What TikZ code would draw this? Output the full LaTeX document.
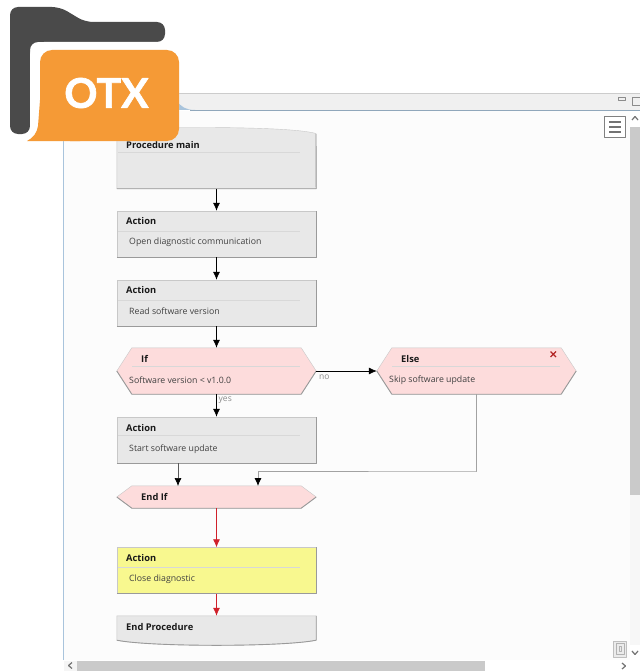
\documentclass[tikz,border=0pt]{standalone}
\usepackage{fontspec}
\setmainfont{Open Sans}
\newfontfamily\logofont[BoldFeatures={FakeBold=1.6}]{Lato}
\usetikzlibrary{arrows.meta}

\definecolor{boxfill}{HTML}{E8E8E8}
\definecolor{hexfill}{HTML}{FDDCDC}
\definecolor{closefill}{HTML}{F8F88F}
\definecolor{boxline}{HTML}{C8C8C8}
\definecolor{boxshade}{HTML}{9A9A9A}
\definecolor{titlerule}{HTML}{D8D8D8}
\definecolor{flowgray}{HTML}{A2A2A2}
\definecolor{flowred}{HTML}{D0202A}
\definecolor{winline}{HTML}{A9C4DC}
\definecolor{folderdark}{HTML}{4A4A4A}
\definecolor{folderorange}{HTML}{F59A36}
\definecolor{barfill}{HTML}{CACACA}

\tikzset{
  boxnode/.style={rectangle,fill=boxfill,draw=boxline,minimum width=199bp,minimum height=46bp,inner sep=0pt},
  hexnode/.style={rectangle,minimum width=199bp,inner sep=0pt},
  titletext/.style={anchor=west,inner sep=0pt,font=\fontsize{9.3bp}{11bp}\selectfont\bfseries,text=black!90},
  bodytext/.style={anchor=west,inner sep=0pt,yshift=-.8bp,font=\fontsize{8.75bp}{11bp}\selectfont,text=black!75},
  flowlabel/.style={anchor=west,inner sep=0pt,font=\fontsize{8.5bp}{10bp}\selectfont,text=black!45},
  flowedge/.style={-{Latex[length=8bp,width=7bp,black]},line width=.7bp},
  rededge/.style={-{Latex[length=8bp,width=7bp]},line width=.8bp,flowred},
}
\newcommand{\shadeedge}[1]{\draw [boxshade,line width=.9bp] (#1.south west) -- (#1.south east) -- (#1.north east);}
\newcommand{\hexoutline}[2]{%
  \path [fill=hexfill,draw=boxline] (#1.west) -- ([xshift=#2]#1.north west) -- ([xshift=-#2]#1.north east) -- (#1.east) -- ([xshift=-#2]#1.south east) -- ([xshift=#2]#1.south west) -- cycle;
  \draw [boxshade,line width=.9bp] (#1.west) -- ([xshift=#2]#1.south west) -- ([xshift=-#2]#1.south east) -- (#1.east);}

\begin{document}
\begin{tikzpicture}[x=1bp,y=-1bp,line join=bevel]
\useasboundingbox (0,0) rectangle (640,671);

% Window frame
\fill [white] (0,0) rectangle (640,671);
\fill [black!1] (64,111) rectangle (630,660);
\fill [black!6] (178,93) rectangle (640,110);
\draw [black!20] (178,93) -- (640,93);
\draw [winline!85!black,line width=1.3bp] (190,110.5) -- (640,110.5);
\fill [winline] (176,100) .. controls (181,107) and (186,110) .. (195,110) -- (176,110) -- cycle;
\draw [winline,line width=1bp] (63,130) -- (63,660);
\fill [barfill] (630,127) rectangle (640,495);
\fill [black!3] (630,495) rectangle (640,645);
\fill [barfill] (77,660.5) rectangle (485,671);
\fill [black!4] (64,660.5) rectangle (77,671);

% Window buttons
\draw [black!45,line width=.6bp] (618,97) rectangle (625,100);
\draw [black!45,line width=.6bp] (632,97) rectangle (640,105);
\node (menubutton) [rectangle,draw=black!50,fill=white,minimum width=21bp,minimum height=21bp,inner sep=0pt] at (615,127) {};
\draw [black!55,line width=1.2bp] (609,122) -- (621,122) (609,127) -- (621,127) (609,132) -- (621,132);
\draw [black!55,line width=1.2bp] (632,120) -- (635,116.5) -- (638,120);
\draw [black!55,line width=1.2bp] (632,651) -- (635,654.5) -- (638,651);
\draw [black!55,line width=1.2bp] (72,662.5) -- (68.5,665.5) -- (72,668.5);
\draw [black!55,line width=1.2bp] (622,663) -- (625.5,666) -- (622,669);
\node (pagebutton) [rectangle,draw=black!25,fill=black!8,minimum width=13bp,minimum height=16bp,inner sep=0pt] at (620,649) {};
\draw [black!30,line width=.7bp] (616,643.5) rectangle (624,654.5);
\draw [black!30,line width=.5bp] (619,646) rectangle (621,651);

% Node: main
\node (main) [rectangle,minimum width=199bp,minimum height=61bp,inner sep=0pt] at (216.5,158) {};
\path [fill=boxfill,draw=boxline] (main.south west) -- (main.north west) -- (200,127.5) .. controls (250,127.5) and (300,129) .. (316,133.5) -- (main.south east) -- cycle;
\draw [boxshade,line width=.9bp] (main.south west) -- (main.south east) -- (316,134);
\node (maintitle) [titletext] at (126,145) {Procedure main};
\draw [titlerule] (118,152.5) -- (300,152.5);

% Node: action1
\node (action1) [boxnode] at (216.5,234) {};
\shadeedge{action1}
\node (action1title) [titletext] at (126,221.5) {Action};
\draw [titlerule] (118,231) -- (300,231);
\node (action1text) [bodytext] at (129,241) {Open diagnostic communication};

% Node: action2
\node (action2) [boxnode] at (216.5,303) {};
\shadeedge{action2}
\node (action2title) [titletext] at (126,290.5) {Action};
\draw [titlerule] (118,300) -- (300,300);
\node (action2text) [bodytext] at (129,310) {Read software version};

% Node: ifnode
\node (ifnode) [hexnode,minimum height=46bp] at (216.5,371) {};
\hexoutline{ifnode}{15bp}
\node (iftitle) [titletext] at (141,359) {If};
\draw [titlerule] (132,366) -- (300,366);
\node (iftext) [bodytext] at (129,379) {Software version < v1.0.0};

% Node: elsenode
\node (elsenode) [hexnode,minimum height=46bp] at (476.5,371) {};
\hexoutline{elsenode}{15bp}
\node (elsetitle) [titletext] at (401,359) {Else};
\draw [titlerule] (392,366) -- (560,366);
\node (elsetext) [bodytext] at (389,379) {Skip software update};
\draw [red!65!black!85,line width=1.3bp] (550.5,351.5) -- (556,357) (556,351.5) -- (550.5,357);

% Node: action3
\node (action3) [boxnode] at (216.5,440) {};
\shadeedge{action3}
\node (action3title) [titletext] at (126,428) {Action};
\draw [titlerule] (118,435.5) -- (300,435.5);
\node (action3text) [bodytext] at (129,448) {Start software update};

% Node: endif
\node (endif) [hexnode,minimum height=22bp] at (216.5,497) {};
\hexoutline{endif}{15bp}
\node (endiftitle) [titletext] at (141,497) {End If};
\coordinate (endifleft) at (178,486);
\coordinate (endifright) at (258,486);
\coordinate (elsejoin) at (476,471);

% Node: closeaction
\node (closeaction) [boxnode,fill=closefill] at (216.5,570.5) {};
\shadeedge{closeaction}
\node (closetitle) [titletext] at (126,558) {Action};
\draw [titlerule] (118,567) -- (300,567);
\node (closetext) [bodytext] at (129,578) {Close diagnostic};

% Node: endproc
\node (endproc) [rectangle,minimum width=199bp,minimum height=24bp,inner sep=0pt] at (216.5,628) {};
\path [fill=boxfill,draw=boxline] (endproc.north west) -- (endproc.south west) .. controls (150,647) and (283,647) .. (endproc.south east) -- (endproc.north east) -- cycle;
\draw [boxshade,line width=.9bp] (endproc.north east) -- (endproc.south east) .. controls (283,647) and (150,647) .. (endproc.south west);
\node (endproctitle) [titletext] at (126,627) {End Procedure};

% Edge: main -> action1
\draw [flowedge] (main) -- (action1);
% Edge: action1 -> action2
\draw [flowedge] (action1) -- (action2);
% Edge: action2 -> ifnode
\draw [flowedge] (action2) -- (ifnode);
% Edge: ifnode -> elsenode
\draw [flowedge] (ifnode) -- (elsenode);
\node (nolabel) [flowlabel] at (319,377) {no};
% Edge: ifnode -> action3
\draw [flowedge] (ifnode) -- (action3);
\node (yeslabel) [flowlabel] at (218.5,400.5) {yes};
% Edge: action3 -> endif
\draw [flowedge,black!65] (action3.south -| endifleft) -- (endifleft);
% Edge: elsenode -> endif
\draw [flowedge,flowgray,line width=.9bp] (elsenode.south) |- (elsejoin) -| (endifright);
% Edge: endif -> closeaction
\draw [rededge] (endif) -- (closeaction);
% Edge: closeaction -> endproc
\draw [rededge] (closeaction) -- (endproc);

% Folder icon
\fill [folderdark,rounded corners=8bp] (10,134) -- (10,7) -- (60,7) -- (85,22) -- (165,22) -- (165,42) -- (30,42) -- (30,134) -- cycle;
\fill [white,rounded corners=14bp] (30,141) -- (30,42) -- (179,42) -- (179,141) -- cycle;
\path [fill=folderorange,rounded corners=12bp] (40,125) -- (40,50) -- (179,50) -- (179,141) -- (70,141);
\path [fill=folderorange] (40,100) -- (38,126) .. controls (37,133) and (33,138) .. (27,141) -- (80,141) -- cycle;
\node (otxlabel) [inner sep=0pt,text=white,font=\logofont\fontsize{41bp}{41bp}\selectfont\bfseries] at (106.5,93) {OTX};
%
\end{tikzpicture}
\end{document}
